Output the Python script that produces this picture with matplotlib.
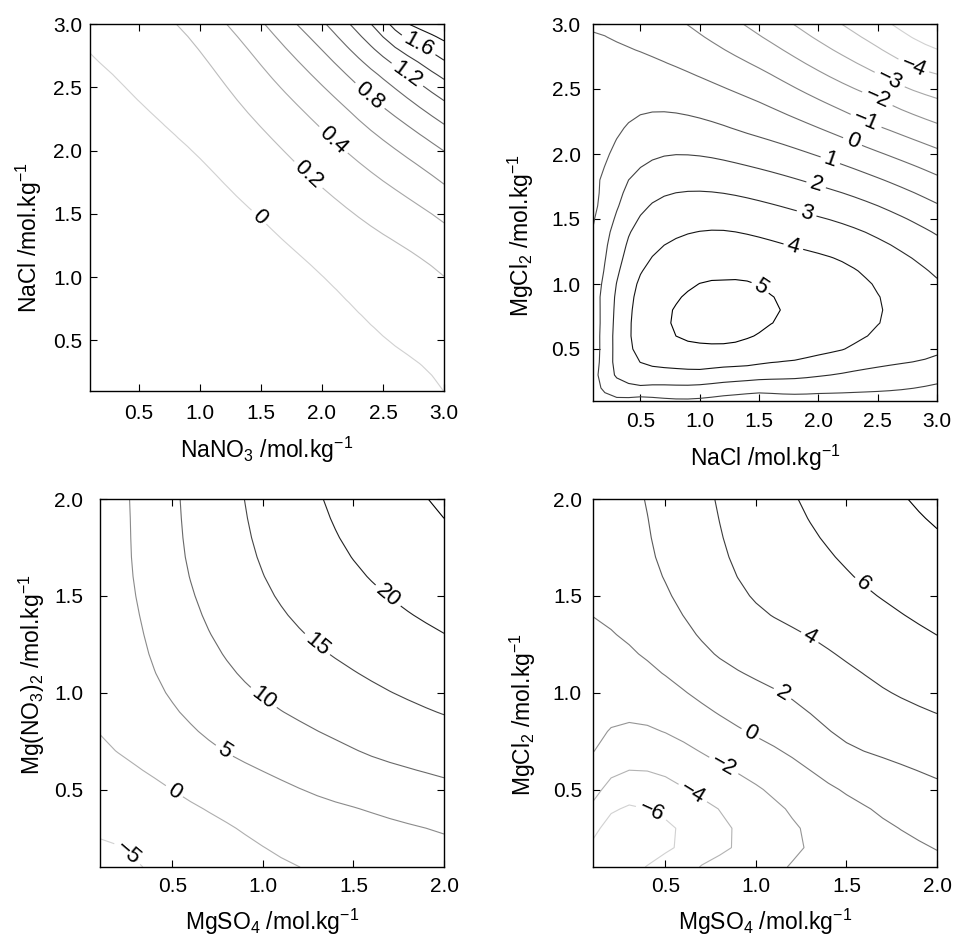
import numpy as np
import matplotlib
matplotlib.use('Agg')
import matplotlib.pyplot as plt

plt.rcParams['font.family'] = ['Liberation Sans', 'DejaVu Sans']
plt.rcParams['mathtext.fontset'] = 'custom'
plt.rcParams['mathtext.rm'] = 'Liberation Sans'
plt.rcParams['mathtext.it'] = 'Liberation Sans:italic'
plt.rcParams['mathtext.default'] = 'regular'

# ---------------- readings (x, y, value) ----------------
# Panel 1: NaNO3 (x) vs NaCl (y)
P1_X = [0.10, 0.45, 0.796, 1.14, 1.491, 1.87, 2.242, 2.62, 2.992,
        0.809, 1.33, 1.887, 2.42, 2.992,
        1.219, 1.64, 2.092, 2.53, 2.992,
        1.532, 2.22, 2.992,
        1.791, 2.392, 2.992,
        2.037, 2.49, 2.992,
        2.228, 2.705, 2.992,
        2.405, 2.992,
        2.555, 2.80, 2.992,
        2.692, 2.992,
        0.1, 0.1, 0.1, 0.8, 1.2, 1.5, 2.2, 0.6, 1.6, 0.3,
        0.1, 0.1, 3.0, 2.7]
P1_Y = [2.755, 2.44, 2.122, 1.80, 1.476, 1.13, 0.778, 0.44, 0.105,
        3.0, 2.37, 1.806, 1.39, 1.015,
        3.0, 2.52, 2.083, 1.74, 1.437,
        3.0, 2.32, 1.74,
        3.0, 2.425, 2.003,
        3.0, 2.58, 2.214,
        3.0, 2.597, 2.399,
        3.0, 2.571,
        3.0, 2.84, 2.715,
        3.0, 2.873,
        0.1, 1.5, 2.2, 0.8, 1.2, 0.1, 0.1, 1.6, 0.6, 0.3,
        3.0, 2.5, 0.35, 0.1]
P1_Z = [0, 0, 0, 0, 0, 0, 0, 0, 0,
        0.2, 0.2, 0.2, 0.2, 0.2,
        0.4, 0.4, 0.4, 0.4, 0.4,
        0.6, 0.6, 0.6,
        0.8, 0.8, 0.8,
        1.0, 1.0, 1.0,
        1.2, 1.2, 1.2,
        1.4, 1.4,
        1.6, 1.6, 1.6,
        1.8, 1.8,
        -0.25, -0.1, -0.04, -0.12, -0.06, -0.1, -0.05, -0.1, -0.1, -0.2,
        0.03, -0.03, 0.03, -0.03]
P1_LEVELS = [0, 0.2, 0.4, 0.6, 0.8, 1.0, 1.2, 1.4, 1.6, 1.8, 2.0]
P1_LABEL_AT = [(1.49, 1.48), (1.89, 1.81), (2.09, 2.08), (2.39, 2.43), (2.70, 2.60), (2.80, 2.85)]

# Panel 2: NaCl (x) vs MgCl2 (y)
P2_X = [2.615, 3.0,
        2.194, 2.798, 3.0,
        1.786, 2.601, 3.0,
        1.365, 2.503, 3.0,
        0.887, 1.533, 2.404, 3.0,
        0.1, 0.69, 1.5, 2.292, 3.0,
        3.0, 2.095, 1.393, 0.69, 0.493, 0.311, 0.212, 0.156, 0.1,
        3.0, 1.983, 0.915, 0.55, 0.381, 0.24, 0.156, 0.142, 0.17, 0.381, 1.5, 3.0,
        3.0, 1.898, 1.084, 0.634, 0.409, 0.297, 0.262, 0.28, 0.493, 1.0, 1.533, 2.3, 3.0,
        1.182, 0.774, 0.578, 0.465, 0.418, 0.493, 0.69, 1.0, 1.393, 1.8, 2.208, 2.517, 2.531, 2.489, 2.236, 1.786,
        0.760, 0.803, 1.027, 1.435, 1.617, 1.674, 1.589, 1.196, 0.999, 0.873,
        1.2, 1.0, 1.4,
        0.1, 0.1, 0.1, 0.1, 0.1, 0.1, 0.5, 1.2, 2.0, 3.0, 3.0,
        0.1, 0.3, 0.1]
P2_Y = [3.0, 2.805,
        3.0, 2.672, 2.615,
        3.0, 2.569, 2.428,
        3.0, 2.428, 2.236,
        3.0, 2.646, 2.249, 2.044,
        2.941, 2.713, 2.40, 2.095, 1.838,
        1.62, 1.954, 2.159, 2.325, 2.30, 2.133, 1.928, 1.646, 1.44,
        1.377, 1.762, 1.992, 1.928, 1.775, 1.39, 0.877, 0.364, 0.185, 0.125, 0.167, 0.231,
        1.044, 1.544, 1.71, 1.646, 1.39, 1.005, 0.621, 0.287, 0.21, 0.225, 0.262, 0.33, 0.446,
        1.415, 1.338, 1.185, 1.005, 0.672, 0.403, 0.352, 0.335, 0.364, 0.41, 0.492, 0.697, 0.774, 0.954, 1.159, 1.287,
        0.697, 0.595, 0.544, 0.595, 0.710, 0.787, 0.928, 1.026, 1.005, 0.915,
        0.78, 0.78, 0.78,
        0.1, 0.4, 0.75, 1.1, 2.2, 3.0, 0.1, 0.1, 0.1, 0.1, 0.75,
        2.6, 2.86, 1.8]
P2_Z = [-5, -5,
        -4, -4, -4,
        -3, -3, -3,
        -2, -2, -2,
        -1, -1, -1, -1,
        0, 0, 0, 0, 0,
        1, 1, 1, 1, 1, 1, 1, 1, 1,
        2, 2, 2, 2, 2, 2, 2, 2, 2, 2, 2, 2,
        3, 3, 3, 3, 3, 3, 3, 3, 3, 3, 3, 3, 3,
        4, 4, 4, 4, 4, 4, 4, 4, 4, 4, 4, 4, 4, 4, 4, 4,
        5, 5, 5, 5, 5, 5, 5, 5, 5, 5,
        5.5, 5.45, 5.4,
        1.2, 1.4, 1.4, 1.25, 0.5, -0.05, 1.55, 1.6, 1.55, 1.3, 3.5,
        0.25, 0.0, 0.8]
P2_LEVELS = [-5, -4, -3, -2, -1, 0, 1, 2, 3, 4, 5]
P2_LABEL_AT = [(2.80, 2.67), (2.60, 2.57), (2.50, 2.43), (2.40, 2.25), (2.29, 2.10),
               (2.10, 1.95), (1.98, 1.76), (1.90, 1.54), (1.79, 1.29), (1.49, 0.95)]

# Panel 3: MgSO4 (x) vs Mg(NO3)2 (y)
P3_X = [1.912, 2.0,
        1.332, 1.497, 1.691, 2.0,
        0.899, 0.945, 1.055, 1.304, 1.534, 1.81, 2.0,
        0.54, 0.568, 0.65, 0.798, 1.0, 1.258, 1.626, 2.0,
        0.255, 0.273, 0.338, 0.466, 0.779, 1.074, 1.534, 2.0,
        0.1, 0.338, 0.512, 0.798, 1.019, 1.185,
        0.1, 0.199, 0.27, 0.304,
        0.1, 0.1]
P3_Y = [2.0, 1.90,
        2.0, 1.685, 1.495, 1.306,
        2.0, 1.771, 1.512, 1.245, 1.099, 0.961, 0.884,
        2.0, 1.685, 1.426, 1.168, 0.97, 0.823, 0.651, 0.556,
        2.0, 1.685, 1.34, 0.996, 0.694, 0.565, 0.41, 0.281,
        0.763, 0.6, 0.488, 0.341, 0.195, 0.1,
        0.203, 0.269, 0.2, 0.1,
        0.1, 2.0]
P3_Z = [25, 25,
        20, 20, 20, 20,
        15, 15, 15, 15, 15, 15, 15,
        10, 10, 10, 10, 10, 10, 10, 10,
        5, 5, 5, 5, 5, 5, 5, 5,
        0, 0, 0, 0, 0, 0,
        -5, -5, -5, -5,
        -6.0, 1.5]
P3_LEVELS = [-5, 0, 5, 10, 15, 20, 25]
P3_LABEL_AT = [(0.30, 0.22), (0.51, 0.49), (0.78, 0.69), (1.00, 0.97), (1.30, 1.25), (1.69, 1.50)]

# Panel 4: MgSO4 (x) vs MgCl2 (y)
P4_X = [1.84, 2.0,
        1.232, 1.407, 1.591, 2.0,
        0.772, 0.855, 1.039, 1.297, 1.591, 2.0,
        0.385, 0.45, 0.579, 0.763, 1.149, 1.499, 2.0,
        0.1, 0.229, 0.395, 0.579, 0.965, 1.223, 1.591, 1.867, 2.0,
        0.1, 0.201, 0.303, 0.395, 0.487, 0.818, 1.131, 1.241, 1.269, 1.16,
        0.1, 0.201, 0.303, 0.395, 0.505, 0.652, 0.781, 0.864, 0.87, 0.68,
        0.1, 0.201, 0.303, 0.431, 0.56, 0.569, 0.385,
        0.3, 0.4, 0.1, 0.2, 0.1, 0.1, 0.1, 0.1, 2.0, 2.0,
        1.0, 1.0, 1.5, 0.5, 0.5]
P4_Y = [2.0, 1.848,
        2.0, 1.736, 1.556, 1.297,
        2.0, 1.685, 1.426, 1.289, 1.099, 0.892,
        2.0, 1.685, 1.426, 1.202, 0.996, 0.737, 0.556,
        1.392, 1.306, 1.168, 1.03, 0.789, 0.651, 0.427, 0.255, 0.186,
        0.686, 0.823, 0.844, 0.832, 0.798, 0.625, 0.427, 0.307, 0.195, 0.1,
        0.427, 0.565, 0.60, 0.596, 0.565, 0.479, 0.41, 0.298, 0.195, 0.1,
        0.246, 0.384, 0.419, 0.384, 0.298, 0.203, 0.1,
        0.2, 0.25, 0.1, 0.1, 1.0, 1.2, 1.6, 2.0, 0.1, 2.0,
        0.1, 0.2, 0.1, 0.1, 0.2]
P4_Z = [8, 8,
        6, 6, 6, 6,
        4, 4, 4, 4, 4, 4,
        2, 2, 2, 2, 2, 2, 2,
        0, 0, 0, 0, 0, 0, 0, 0, 0,
        -2, -2, -2, -2, -2, -2, -2, -2, -2, -2,
        -4, -4, -4, -4, -4, -4, -4, -4, -4, -4,
        -6, -6, -6, -6, -6, -6, -6,
        -7.6, -7.3, -6.8, -7.0, -1.1, -0.5, 0.45, 0.9, -0.4, 8.5,
        -2.7, -3.35, -1.2, -5.2, -6.3]
P4_LEVELS = [-6, -4, -2, 0, 2, 4, 6, 8]
P4_LABEL_AT = [(0.42, 0.38), (0.65, 0.48), (0.82, 0.62), (0.97, 0.79), (1.15, 1.00), (1.30, 1.29), (1.59, 1.56)]

XLABELS = ['NaNO$_3$ /mol.kg$^{-1}$', 'NaCl /mol.kg$^{-1}$', 'MgSO$_4$ /mol.kg$^{-1}$', 'MgSO$_4$ /mol.kg$^{-1}$']
YLABELS = ['NaCl /mol.kg$^{-1}$', 'MgCl$_2$ /mol.kg$^{-1}$', 'Mg(NO$_3$)$_2$ /mol.kg$^{-1}$', 'MgCl$_2$ /mol.kg$^{-1}$']
TICKS_3 = [0.5, 1.0, 1.5, 2.0, 2.5, 3.0]
TICKS_2 = [0.5, 1.0, 1.5, 2.0]


# ---------------- smooth (thin-plate) surface through the readings ----------------
def _tps_kernel(r):
    with np.errstate(divide='ignore', invalid='ignore'):
        k = r * r * np.log(r)
    return np.where(r > 0, k, 0.0)


def surface_tps(px, py, pz, gx, gy, smooth=1e-3):
    px = np.asarray(px, float); py = np.asarray(py, float); pz = np.asarray(pz, float)
    n = len(px)
    r = np.hypot(px[:, None] - px[None, :], py[:, None] - py[None, :])
    K = _tps_kernel(r) + smooth * np.eye(n)
    P = np.column_stack([np.ones(n), px, py])
    M = np.zeros((n + 3, n + 3))
    M[:n, :n] = K; M[:n, n:] = P; M[n:, :n] = P.T
    rhs = np.concatenate([pz, np.zeros(3)])
    sol = np.linalg.solve(M, rhs)
    w, a = sol[:n], sol[n:]
    X, Y = np.meshgrid(gx, gy)
    rg = np.hypot(X[..., None] - px, Y[..., None] - py)
    Z = _tps_kernel(rg) @ w + a[0] + a[1] * X + a[2] * Y
    return X, Y, Z


def grays(levels):
    lo, hi = min(levels), max(levels)
    return [str(0.82 - 0.82 * (l - lo) / (hi - lo)) for l in levels]


def fmt_level(v):
    return f'{v:g}'.replace('-', '\u2212')


fig = plt.figure(figsize=(9.55, 9.38), dpi=100)


def add_ax(l, t, r, b):
    return fig.add_axes([l / 955, 1 - b / 938, (r - l) / 955, (b - t) / 938])


panels = [
    dict(box=(90, 24, 444, 391), data=(P1_X, P1_Y, P1_Z), lim=3.0, ticks=TICKS_3, smooth=0.01,
         levels=P1_LEVELS, label_at=P1_LABEL_AT,
         ylab=(-0.172, 0.417), xlab=(0.5, -0.161), ypad=5.5, xpad=9),
    dict(box=(593, 24, 937, 401), data=(P2_X, P2_Y, P2_Z), lim=3.0, ticks=TICKS_3, smooth=0.003,
         levels=P2_LEVELS, label_at=P2_LABEL_AT,
         ylab=(-0.209, 0.438), xlab=(0.5, -0.151), ypad=9, xpad=8),
    dict(box=(100, 499, 444, 867), data=(P3_X, P3_Y, P3_Z), lim=2.0, ticks=TICKS_2, smooth=0.03,
         levels=P3_LEVELS, label_at=P3_LABEL_AT,
         ylab=(-0.198, 0.522), xlab=(0.5, -0.149), ypad=12, xpad=7),
    dict(box=(593, 499, 937, 867), data=(P4_X, P4_Y, P4_Z), lim=2.0, ticks=TICKS_2, smooth=0.001,
         levels=P4_LEVELS, label_at=P4_LABEL_AT,
         ylab=(-0.203, 0.413), xlab=(0.5, -0.149), ypad=8, xpad=7),
]

for i, p in enumerate(panels):
    ax = add_ax(*p['box'])
    n = int(round((p['lim'] - 0.1) / 0.1)) + 1
    g = np.linspace(0.1, p['lim'], n)
    X, Y, Z = surface_tps(*p['data'], g, g, smooth=p['smooth'])
    cs = ax.contour(X, Y, Z, levels=p['levels'], colors=grays(p['levels']), linewidths=0.8)
    ax.clabel(cs, levels=cs.levels, manual=p['label_at'], inline=True, fontsize=16,
              colors='k', fmt=fmt_level, inline_spacing=4)
    ax.set_xlim(0.1, p['lim'])
    ax.set_ylim(0.1, p['lim'])
    ax.set_xticks(p['ticks'])
    ax.set_yticks(p['ticks'])
    ax.set_xticklabels([f'{t:.1f}' for t in p['ticks']])
    ax.set_yticklabels([f'{t:.1f}' for t in p['ticks']])
    ax.tick_params(direction='in', top=True, right=True, length=5, width=0.8, labelsize=15)
    ax.tick_params(axis='y', pad=p['ypad'])
    ax.tick_params(axis='x', pad=p['xpad'])
    for s in ax.spines.values():
        s.set_linewidth(1.0)
    ax.set_xlabel(XLABELS[i], fontsize=16.5, va='center')
    ax.set_ylabel(YLABELS[i], fontsize=16.5, va='center')
    ax.xaxis.set_label_coords(*p['xlab'])
    ax.yaxis.set_label_coords(*p['ylab'])

fig.savefig('out.png', dpi=100)
